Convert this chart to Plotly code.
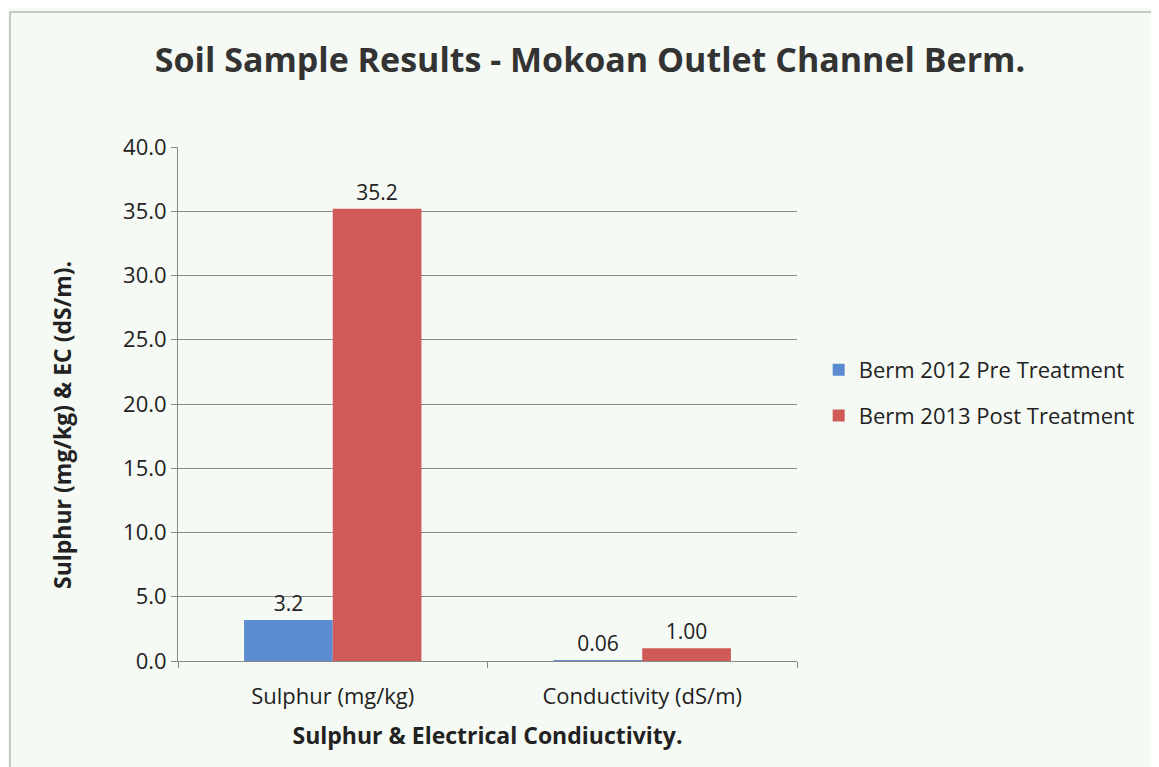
import plotly.graph_objects as go

categories = ["Sulphur (mg/kg)", "Conductivity (dS/m)"]
pre_2012 = [3.2, 0.06]
post_2013 = [35.2, 1.00]
label_formats = ["{:.1f}", "{:.2f}"]
series_names = ["Berm 2012 Pre Treatment", "Berm 2013 Post Treatment"]
y_ticks = [0, 5, 10, 15, 20, 25, 30, 35, 40]
y_title = "<b>Sulphur (mg/kg) & EC (dS/m).</b>"

FONT = "Open Sans"
OFF = 8  # page body margin
W, H = 1159 - OFF, 767 - OFF
L, R = 178 - OFF, 1159 - 797
T, B = 147 - OFF, 767 - 661
PW, PH = W - L - R, H - T - B

def labels(vals):
    return [f.format(v) for f, v in zip(label_formats, vals)]

fig = go.Figure()
fig.add_trace(go.Bar(x=categories, y=pre_2012, name=series_names[0], legendgroup="a",
                     marker=dict(color="#5b8bd0", line=dict(width=0)),
                     text=labels(pre_2012), textposition="outside",
                     textfont=dict(size=21, color="#222", family=FONT), cliponaxis=False))
fig.add_trace(go.Bar(x=categories, y=post_2013, name=series_names[1], legendgroup="b",
                     marker=dict(color="#cf5a57", line=dict(width=0)),
                     text=labels(post_2013), textposition="outside",
                     textfont=dict(size=21, color="#222", family=FONT), cliponaxis=False))

fig.update_layout(
    width=W, height=H,
    barmode="group", bargap=0.427, bargroupgap=0,
    paper_bgcolor="#f6faf5", plot_bgcolor="#f6faf5",
    margin=dict(l=L, r=R, t=T, b=B),
    font=dict(family=FONT, color="#222"),
    title=dict(text="<b>Soil Sample Results - Mokoan Outlet Channel Berm.</b>",
               x=(590 - OFF) / W, xanchor="center", y=1 - (60 - OFF) / H, yanchor="middle",
               font=dict(size=34, family=FONT, color="#333")),
    legend=dict(x=1.035, y=1 - (393 - 147) / PH, xanchor="left", yanchor="middle",
                font=dict(size=22, family=FONT, color="#222"), traceorder="grouped",
                bgcolor="rgba(0,0,0,0)", tracegroupgap=14, itemwidth=30),
    showlegend=True,
)
fig.update_xaxes(showline=True, linecolor="#888", linewidth=1,
                 ticks="outside", tickson="boundaries", ticklen=6, tickcolor="#888",
                 ticklabelstandoff=16,
                 tickfont=dict(size=22, family=FONT, color="#222"),
                 title=dict(text="<b>Sulphur & Electrical Condiuctivity.</b>",
                            font=dict(size=23, family=FONT, color="#222"), standoff=18))
fig.update_yaxes(range=[0, 40], tickvals=y_ticks, tickformat=".1f",
                 showline=True, linecolor="#888", linewidth=1,
                 ticks="outside", ticklen=6, tickcolor="#888",
                 showgrid=True, gridcolor="#8a8a8a", gridwidth=1, zeroline=False,
                 tickfont=dict(size=22, family=FONT, color="#222"))
fig.add_annotation(text=y_title, xref="paper", yref="paper", x=0, xshift=-(178 - 62),
                   y=1 - (425 - 147) / PH, textangle=-90, showarrow=False,
                   xanchor="center", yanchor="middle",
                   font=dict(size=23, family=FONT, color="#222"))
fig.add_shape(type="rect", xref="paper", yref="paper",
              x0=-(L - 2) / PW, x1=1 + (R + 5) / PW,
              y0=-(B + 5) / PH, y1=1 + (T - 4) / PH,
              line=dict(color="#999", width=1), layer="below")

fig.write_html("out.html")
